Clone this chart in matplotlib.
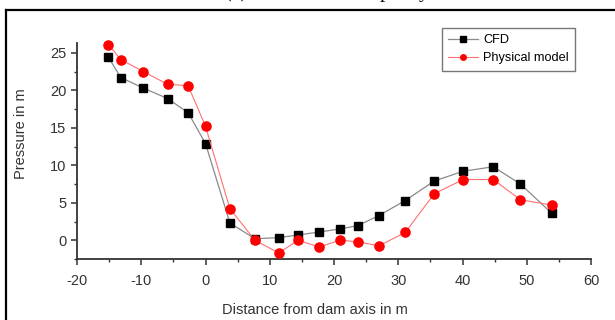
#!/usr/bin/env python3
# -*- coding: utf-8 -*-
"""Pressure along dam axis: CFD vs physical model."""

import matplotlib
matplotlib.use("Agg")
import matplotlib.pyplot as plt
from matplotlib.lines import Line2D
from matplotlib.ticker import MultipleLocator

# distance from dam axis (m)
distance = [-15.1, -13.2, -9.7, -5.9, -2.7, 0.0, 3.8, 7.7, 11.4, 14.4,
            17.7, 20.9, 23.7, 27.0, 31.1, 35.6, 40.1, 44.8, 49.0, 53.9]
# pressure (m)
cfd = [24.4, 21.7, 20.3, 18.9, 17.0, 12.9, 2.3, 0.2, 0.35, 0.7,
       1.1, 1.5, 1.95, 3.3, 5.3, 7.9, 9.2, 9.8, 7.5, 3.6]
physical = [26.1, 24.1, 22.5, 20.8, 20.6, 15.2, 4.2, 0.0, -1.7, 0.0,
            -0.9, 0.0, -0.2, -0.75, 1.05, 6.2, 8.1, 8.1, 5.4, 4.7]

plt.rcParams['font.family'] = ['Liberation Sans', 'DejaVu Sans']
plt.rcParams['axes.unicode_minus'] = False

fig = plt.figure(figsize=(6.15, 3.2), dpi=100)
W, H = 615, 320
ax = fig.add_axes([77 / W, 1 - 259 / H, (591 - 77) / W, (259 - 43) / H])

ax.plot(distance, cfd, color="#8a8a8a", lw=0.9, marker="s", ms=6.2,
        mfc="black", mec="black", label="CFD", zorder=3, clip_on=False)
ax.plot(distance, physical, color="#ff7070", lw=0.8, marker="o", ms=6.6,
        mfc="red", mec="red", label="Physical model", zorder=3, clip_on=False)

ax.set_xlim(-20, 60)
ax.set_ylim(-2.5, 26.3)
ax.xaxis.set_major_locator(MultipleLocator(10))
ax.xaxis.set_minor_locator(MultipleLocator(5))
ax.yaxis.set_major_locator(MultipleLocator(5))
ax.yaxis.set_minor_locator(MultipleLocator(2.5))

for s in ("top", "right"):
    ax.spines[s].set_visible(False)
for s in ("left", "bottom"):
    ax.spines[s].set_color("#333333")
    ax.spines[s].set_linewidth(1.3)

ax.tick_params(which="major", direction="out", length=4.5, width=1.1,
               color="#333333", labelsize=10.5, labelcolor="#333333", pad=3)
ax.tick_params(which="minor", direction="out", length=2.5, width=1.0,
               color="#333333")
ax.tick_params(axis="x", which="major", pad=6)

ax.set_xlabel("Distance from dam axis in m", fontsize=10.5, color="#333333")
ax.set_ylabel("Pressure in m", fontsize=10.5, color="#333333")
ax.xaxis.set_label_coords(0.463, -0.205)
ax.yaxis.set_label_coords(-0.095, 0.581)

leg = ax.legend(loc="upper left", bbox_to_anchor=(442 / W, 1 - 28 / H),
                bbox_transform=fig.transFigure, fontsize=9.2, frameon=True,
                fancybox=False, edgecolor="#555555", handlelength=2.3,
                handletextpad=0.4, borderpad=0.5, labelspacing=0.45,
                markerscale=0.6, borderaxespad=0)
leg.get_frame().set_linewidth(1.0)

# outer frame of the figure panel (cut at right/bottom in the source)
fig.add_artist(Line2D([6 / W, 6 / W], [0, 1 - 10 / H], color="black",
                      lw=1.6, transform=fig.transFigure))
fig.add_artist(Line2D([6 / W, 1], [1 - 10 / H, 1 - 10 / H], color="black",
                      lw=1.6, transform=fig.transFigure))

# caption above, mostly cut off by the image edge
fig.text(225 / W, 1 + 3 / H, "(c) At maximum capacity", fontsize=14.4,
         family="Liberation Serif", ha="left", va="baseline")

fig.savefig("out.png", dpi=100)
